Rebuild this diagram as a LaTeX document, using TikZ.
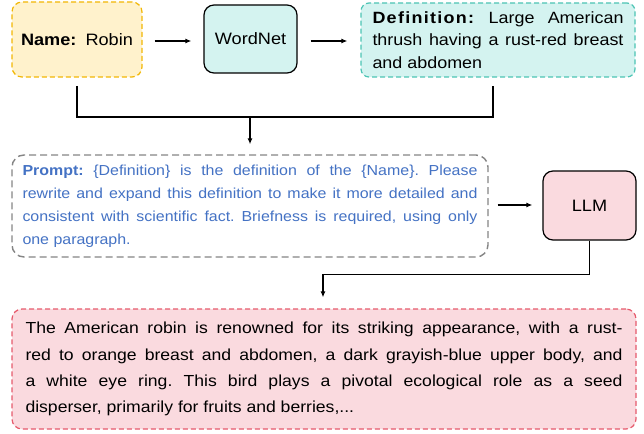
\documentclass[tikz,border=0pt]{standalone}
\usepackage{fontspec}
\setmainfont{Liberation Sans}[FakeStretch=1.1]
\frenchspacing
\usetikzlibrary{arrows.meta}
\definecolor{nameFill}{HTML}{FFF2CC}
\definecolor{nameLine}{HTML}{F2B705}
\definecolor{tealFill}{HTML}{D4F3F0}
\definecolor{tealLine}{HTML}{4CC4B4}
\definecolor{pinkFill}{HTML}{FADADF}
\definecolor{pinkLine}{HTML}{E65A6C}
\definecolor{promptLine}{HTML}{858585}
\definecolor{promptText}{HTML}{4472C4}
\tikzset{
  box/.style={rounded corners=10pt, line width=1.2pt, inner sep=0pt, align=center},
  dashbox/.style={box, dash pattern=on 5pt off 3pt},
  arr/.style={line width=1.2pt, -{Latex[length=6pt,width=5pt]}},
  wire/.style={line width=1.2pt},
  bigtxt/.style={font=\fontsize{16.5}{20}\selectfont}
}
\begin{document}
\begin{tikzpicture}[x=1pt,y=-1pt]
\useasboundingbox (0,0) rectangle (644,433);
% top row
\node[dashbox, bigtxt, fill=nameFill, draw=nameLine, minimum width=130pt, minimum height=75pt] (name) at (77,39.5)
  {\textbf{Name:}\hspace{9pt}Robin};
\node[box, bigtxt, fill=tealFill, draw=black, minimum width=93pt, minimum height=68pt] (wordnet) at (250.5,39)
  {WordNet};
\node[dashbox, fill=tealFill, draw=tealLine, minimum width=274pt, minimum height=74pt, rounded corners=8pt,
      text width=251pt, align=justify, font=\fontsize{16.3}{22.7}\selectfont] (def) at (498,40)
  {{\addfontfeature{LetterSpace=8}\textbf{Definition:}} Large American\linebreak thrush having a rust-red breast\linebreak and abdomen};
% prompt
\node[box, rounded corners=12pt, dash pattern=on 7pt off 4pt, line width=1.4pt, draw=promptLine, fill=white,
      minimum width=476pt, minimum height=102pt, text width=455pt, align=justify, text=promptText,
      font=\fontsize{14.5}{22.9}\selectfont] (prompt) at (250,206)
  {\textbf{Prompt:} \{Definition\} is the definition of the \{Name\}. Please\linebreak rewrite and expand this definition to make it more detailed and\linebreak consistent with scientific fact. Briefness is required, using only\linebreak one paragraph.};
\node[box, bigtxt, fill=pinkFill, draw=black, minimum width=93pt, minimum height=69pt] (llm) at (589.5,205.5)
  {LLM};
% output
\node[dashbox, fill=pinkFill, draw=pinkLine, minimum width=624pt, minimum height=120pt,
      text width=597pt, align=justify, font=\fontsize{16}{26.2}\selectfont] (out) at (324,369)
  {The American robin is renowned for its striking appearance, with a rust-\linebreak red to orange breast and abdomen, a dark grayish-blue upper body, and\linebreak a white eye ring. This bird plays a pivotal ecological role as a seed\linebreak disperser, primarily for fruits and berries,...};
% connectors
\draw[arr, shorten <=12pt, shorten >=12pt] (name.east |- 0,41) -- (wordnet.west |- 0,41);
\draw[arr, shorten <=13pt, shorten >=13pt] (wordnet.east |- 0,41) -- (def.west |- 0,41);
\coordinate (mid) at (250,117);
\coordinate (dsrc) at (493,86);
\coordinate (nsrc) at (77,86);
\draw[wire] (nsrc) -- (nsrc |- mid) -- (dsrc |- mid) -- (dsrc);
\draw[arr, shorten >=10pt] (mid) -- (mid |- prompt.north);
\draw[arr, shorten <=9pt, shorten >=10pt] (prompt.east |- 0,205) -- (llm.west |- 0,205);
\coordinate (turn) at (323,274.5);
\draw[arr, shorten >=11pt] (llm.south) |- (turn) -- (turn |- out.north);
\end{tikzpicture}
\end{document}
